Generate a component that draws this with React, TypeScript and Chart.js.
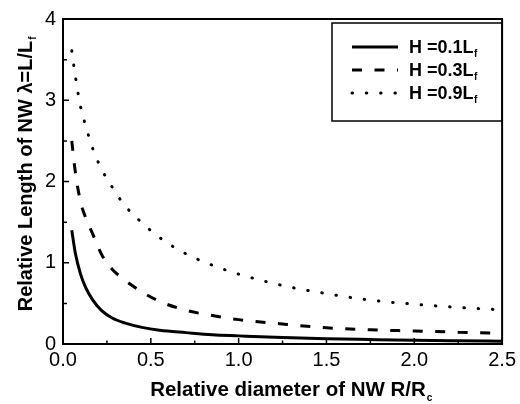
import React, { useEffect, useRef } from "react";
import { Chart, registerables } from "chart.js";

Chart.register(...registerables);

// ---- data ----
const diameters = [0.05, 0.07, 0.1, 0.13, 0.17, 0.22, 0.28, 0.35, 0.45, 0.55, 0.7, 0.85, 1.0, 1.25, 1.5, 1.75, 2.0, 2.25, 2.5];
const lengthH01 = [1.4, 1.12, 0.86, 0.69, 0.54, 0.41, 0.32, 0.26, 0.205, 0.17, 0.14, 0.113, 0.1, 0.08, 0.065, 0.055, 0.046, 0.04, 0.035];
const lengthH03 = [2.5, 2.12, 1.75, 1.55, 1.35, 1.1, 0.92, 0.79, 0.64, 0.525, 0.415, 0.35, 0.3, 0.246, 0.2, 0.175, 0.16, 0.145, 0.13];
const lengthH09 = [3.61, 3.3, 2.92, 2.68, 2.4, 2.15, 1.93, 1.71, 1.49, 1.31, 1.11, 0.97, 0.86, 0.72, 0.62, 0.54, 0.49, 0.45, 0.42];
const seriesH = ["0.1", "0.3", "0.9"];
const xTickLabels = ["0.0", "0.5", "1.0", "1.5", "2.0", "2.5"];
const yTickLabels = ["0", "1", "2", "3", "4"];
const xTitle = "Relative diameter of NW R/R";
const xTitleSub = "c";
const yTitle = "Relative Length of NW \u03bb=L/L";
const yTitleSub = "f";

const FONT = '"Liberation Sans", Arial, sans-serif';

const toPoints = (ys: number[]) => diameters.map((x, i) => ({ x, y: ys[i] }));

const framePlugin = {
  id: "frameAndExtras",
  afterDraw(chart: any) {
    const { ctx, chartArea: a, scales } = chart;
    const xs = scales.x;
    const ys = scales.y;
    ctx.save();
    // frame
    ctx.strokeStyle = "#000";
    ctx.lineWidth = 2;
    ctx.strokeRect(a.left, a.top, a.right - a.left, a.bottom - a.top);
    // inward ticks
    ctx.lineWidth = 1.5;
    ctx.beginPath();
    const xv = xs.ticks.map((t: any) => t.value);
    xv.forEach((v: number, i: number) => {
      const p = xs.getPixelForValue(v);
      ctx.moveTo(p, a.bottom);
      ctx.lineTo(p, a.bottom - 6);
      if (i < xv.length - 1) {
        const m = xs.getPixelForValue((v + xv[i + 1]) / 2);
        ctx.moveTo(m, a.bottom);
        ctx.lineTo(m, a.bottom - 3.5);
      }
    });
    const yv = ys.ticks.map((t: any) => t.value);
    yv.forEach((v: number, i: number) => {
      const p = ys.getPixelForValue(v);
      ctx.moveTo(a.left, p);
      ctx.lineTo(a.left + 6, p);
      if (i < yv.length - 1) {
        const m = ys.getPixelForValue((v + yv[i + 1]) / 2);
        ctx.moveTo(a.left, m);
        ctx.lineTo(a.left + 4, m);
      }
    });
    ctx.stroke();

    // legend
    const bx = 332, by = 23, bw = 170, bh = 98;
    ctx.lineWidth = 1.5;
    ctx.strokeRect(bx, by, bw, bh);
    const baselines = [53, 76, 99];
    chart.data.datasets.forEach((ds: any, i: number) => {
      const yb = baselines[i];
      const yl = yb - 6;
      ctx.save();
      ctx.beginPath();
      ctx.lineWidth = ds.borderWidth;
      ctx.lineCap = ds.borderCapStyle || "butt";
      ctx.setLineDash(ds.borderDash || []);
      ctx.moveTo(352, yl);
      ctx.lineTo(398, yl);
      ctx.stroke();
      ctx.restore();
      ctx.fillStyle = "#000";
      ctx.textBaseline = "alphabetic";
      ctx.textAlign = "left";
      ctx.font = `bold 18px ${FONT}`;
      const main = `H =${seriesH[i]}L`;
      ctx.fillText(main, 409, yb);
      const w = ctx.measureText(main).width;
      ctx.font = `bold 10px ${FONT}`;
      ctx.fillText("f", 409 + w + 0.5, yb + 4);
    });

    // axis titles
    ctx.fillStyle = "#000";
    ctx.textBaseline = "alphabetic";
    ctx.textAlign = "left";
    ctx.font = `bold 20.5px ${FONT}`;
    const xw = ctx.measureText(xTitle).width;
    const xStart = 288 - xw / 2;
    ctx.fillText(xTitle, xStart, 396);
    ctx.font = `bold 10px ${FONT}`;
    ctx.fillText(xTitleSub, xStart + xw + 1, 401);

    ctx.save();
    ctx.translate(31.5, 0);
    ctx.rotate(-Math.PI / 2);
    ctx.font = `bold 20px ${FONT}`;
    const yw = ctx.measureText(yTitle).width;
    const yStart = -(176 + yw / 2);
    ctx.fillText(yTitle, yStart, 0);
    ctx.font = `bold 10px ${FONT}`;
    ctx.fillText(yTitleSub, yStart + yw + 1, 4);
    ctx.restore();

    ctx.restore();
  },
};

export default function App() {
  const ref = useRef<HTMLCanvasElement>(null);
  useEffect(() => {
    document.body.style.margin = "0";
    const chart = new Chart(ref.current as HTMLCanvasElement, {
      type: "line",
      data: {
        datasets: [
          {
            label: "H=0.1Lf",
            data: toPoints(lengthH01),
            borderColor: "#000",
            borderWidth: 3,
            pointRadius: 0,
            fill: false,
            cubicInterpolationMode: "monotone",
          },
          {
            label: "H=0.3Lf",
            data: toPoints(lengthH03),
            borderColor: "#000",
            borderWidth: 3,
            borderDash: [10, 12.5],
            pointRadius: 0,
            fill: false,
            cubicInterpolationMode: "monotone",
          },
          {
            label: "H=0.9Lf",
            data: toPoints(lengthH09),
            borderColor: "#000",
            borderWidth: 3,
            borderDash: [0.5, 13.8],
            borderCapStyle: "round",
            pointRadius: 0,
            fill: false,
            cubicInterpolationMode: "monotone",
          },
        ] as any,
      },
      options: {
        animation: false,
        responsive: true,
        maintainAspectRatio: false,
        layout: { padding: { top: 15, right: 14, left: 0, bottom: 0 } },
        plugins: { legend: { display: false }, tooltip: { enabled: false } },
        scales: {
          x: {
            type: "linear",
            min: 0,
            max: 2.5,
            grid: { display: false, drawTicks: false },
            border: { display: false },
            ticks: {
              stepSize: 0.5,
              autoSkip: false,
              maxRotation: 0,
              padding: 4,
              color: "#000",
              font: { family: FONT, size: 20 },
              callback: (_v: any, i: number) => xTickLabels[i],
            },
            afterFit: (s: any) => {
              s.height = 60;
            },
          },
          y: {
            type: "linear",
            min: 0,
            max: 4,
            grid: { display: false, drawTicks: false },
            border: { display: false },
            ticks: {
              stepSize: 1,
              autoSkip: false,
              padding: 7,
              color: "#000",
              font: { family: FONT, size: 20 },
              callback: (_v: any, i: number) => yTickLabels[i],
            },
            afterFit: (s: any) => {
              s.width = 63;
            },
          },
        },
      } as any,
      plugins: [framePlugin],
    });
    return () => chart.destroy();
  }, []);
  return (
    <div style={{ width: 520, height: 404, position: "relative" }}>
      <canvas ref={ref} />
    </div>
  );
}
